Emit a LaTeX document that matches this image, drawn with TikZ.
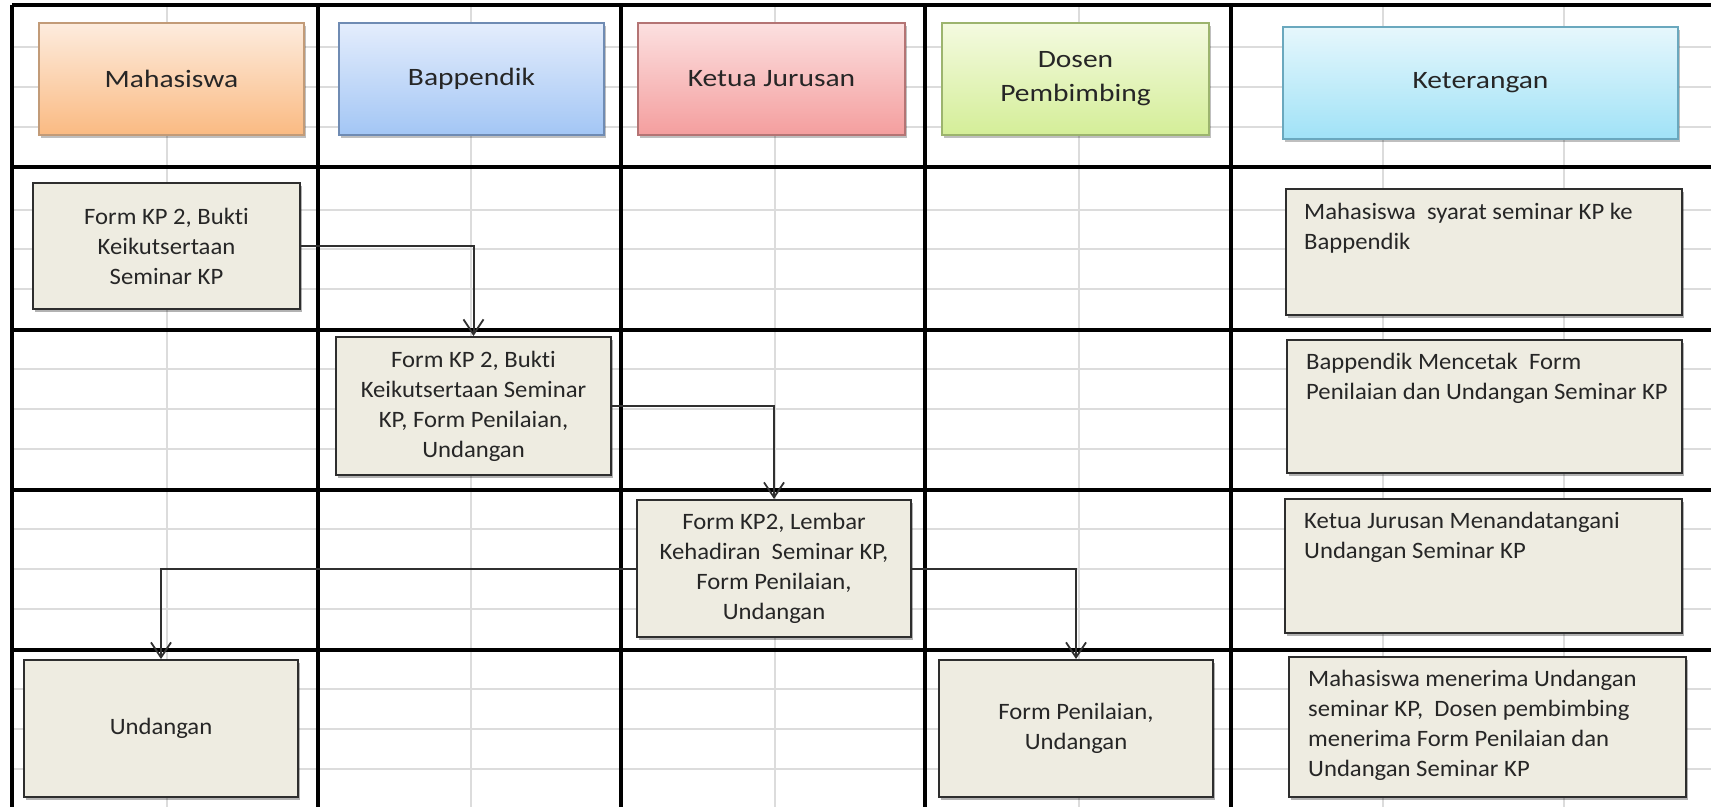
\documentclass[tikz,border=0pt]{standalone}
\usepackage{fontspec}
\setmainfont[FakeStretch=1.05, Ligatures={NoCommon}]{Carlito}
\newfontfamily\hdrfamily[FakeStretch=1.18, Ligatures={NoCommon}]{Carlito}
\usetikzlibrary{arrows.meta,shadows}

\definecolor{boxfill}{HTML}{EEECE1}
\definecolor{boxline}{HTML}{2E2E2E}
\definecolor{gridgray}{HTML}{DCDCDC}
\definecolor{connline}{HTML}{303030}
\definecolor{txt}{HTML}{262626}
\definecolor{mTop}{HTML}{FDECDE}\definecolor{mBot}{HTML}{FABA82}\definecolor{mLine}{HTML}{C29B78}
\definecolor{bTop}{HTML}{E4EDFC}\definecolor{bBot}{HTML}{A3C6F5}\definecolor{bLine}{HTML}{6F8BB3}
\definecolor{kTop}{HTML}{FCE0E0}\definecolor{kBot}{HTML}{F49E9E}\definecolor{kLine}{HTML}{B47474}
\definecolor{dTop}{HTML}{F4FAE0}\definecolor{dBot}{HTML}{D4EE98}\definecolor{dLine}{HTML}{9CB46E}
\definecolor{eTop}{HTML}{E6F7FC}\definecolor{eBot}{HTML}{A0E2F7}\definecolor{eLine}{HTML}{6AA8BE}

\newcommand{\hdrfont}{\hdrfamily\fontsize{25}{34}\selectfont}
\newcommand{\bodyfont}{\fontsize{23.5}{30}\selectfont}

\tikzset{
  gridline/.style={draw=gridgray, line width=1.2pt},
  frameline/.style={draw=black, line width=3.6pt},
  hdr/.style n args={3}{draw=#1, top color=#2, bottom color=#3, line width=1.4pt,
    rectangle, align=center, font=\hdrfont, text=txt,
    drop shadow={shadow xshift=2pt, shadow yshift=-3pt, opacity=0.25, fill=black}},
  bodybox/.style={draw=boxline, fill=boxfill, line width=2pt, rectangle,
    align=center, font=\bodyfont, text=txt, inner sep=0pt,
    drop shadow={shadow xshift=2pt, shadow yshift=-3pt, opacity=0.3, fill=black}},
  ktext/.style={anchor=north west, inner sep=0pt, align=left, font=\bodyfont, text=txt},
  conn/.style={draw=connline, line width=2pt,
    -{Straight Barb[length=15pt, width=20pt, line width=1.8pt]}},
}

\begin{document}
\begin{tikzpicture}[x=1pt, y=-1pt]
\useasboundingbox[fill=white] (0,0) rectangle (1711,807);

% spreadsheet grid
\foreach \yy in {47,87,127,210,249,289,369,409,449,529,569,609,689,729,769}
  \draw[gridline] (12,\yy) -- (1711,\yy);
\foreach \xx in {167,471,775,1079,1383,1564}
  \draw[gridline] (\xx,5) -- (\xx,807);

% swimlane frame
\foreach \yy in {5,167,330,490,650}
  \draw[frameline] (12,\yy) -- (1711,\yy);
\foreach \xx in {12,318,621,925,1231}
  \draw[frameline] (\xx,5) -- (\xx,807);

% header boxes
\node[hdr={mLine}{mTop}{mBot}, minimum width=265pt, minimum height=112pt] (hm) at (171.5,79) {Mahasiswa};
\node[hdr={bLine}{bTop}{bBot}, minimum width=265pt, minimum height=112pt] (hb) at (471.5,79) {Bappendik};
\node[hdr={kLine}{kTop}{kBot}, minimum width=267pt, minimum height=112pt] (hk) at (771.5,79) {Ketua Jurusan};
\node[hdr={dLine}{dTop}{dBot}, minimum width=267pt, minimum height=112pt] (hd) at (1075.5,79) {Dosen\\Pembimbing};
\node[hdr={eLine}{eTop}{eBot}, minimum width=395pt, minimum height=112pt] (hket) at (1480.5,83) {Keterangan};

% process boxes
\node[bodybox, minimum width=267pt, minimum height=126pt] (a) at (166.5,246)
  {Form KP 2, Bukti\\Keikutsertaan\\Seminar KP};
\node[bodybox, minimum width=275pt, minimum height=138pt] (b) at (473.5,406)
  {Form KP 2, Bukti\\Keikutsertaan Seminar\\KP, Form Penilaian,\\Undangan};
\node[bodybox, minimum width=274pt, minimum height=137pt] (c) at (774,568.5)
  {Form KP2, Lembar\\Kehadiran\ \ Seminar KP,\\Form Penilaian,\\Undangan};
\node[bodybox, minimum width=274pt, minimum height=137pt] (d) at (161,728.5)
  {Undangan};
\node[bodybox, minimum width=274pt, minimum height=137pt] (e) at (1076,728.5)
  {Form Penilaian,\\Undangan};

% keterangan boxes
\node[bodybox, minimum width=396pt, minimum height=126pt] (k1) at (1484,252) {};
\node[bodybox, minimum width=395pt, minimum height=133pt] (k2) at (1484.5,406.5) {};
\node[bodybox, minimum width=397pt, minimum height=134pt] (k3) at (1483.5,566) {};
\node[bodybox, minimum width=397pt, minimum height=140pt] (k4) at (1487.5,727) {};

\node[ktext] (t1) at ([xshift=19pt, yshift=-15pt]k1.north west)
  {Mahasiswa\ \ syarat seminar KP ke\\Bappendik};
\node[ktext] (t2) at ([xshift=20pt, yshift=-14pt]k2.north west)
  {Bappendik Mencetak\ \ Form\\Penilaian dan Undangan Seminar KP};
\node[ktext] (t3) at ([xshift=20pt, yshift=-14pt]k3.north west)
  {Ketua Jurusan Menandatangani\\Undangan Seminar KP};
\node[ktext] (t4) at ([xshift=20pt, yshift=-14pt]k4.north west)
  {Mahasiswa menerima Undangan\\seminar KP,\ \ Dosen pembimbing\\menerima Form Penilaian dan\\Undangan Seminar KP};

% connectors
\draw[conn] (a.east) -| (b.north);
\draw[conn] (b.east) -| (c.north);
\draw[conn] (c.west) -| (d.north);
\draw[conn] (c.east) -| (e.north);
\end{tikzpicture}
\end{document}
